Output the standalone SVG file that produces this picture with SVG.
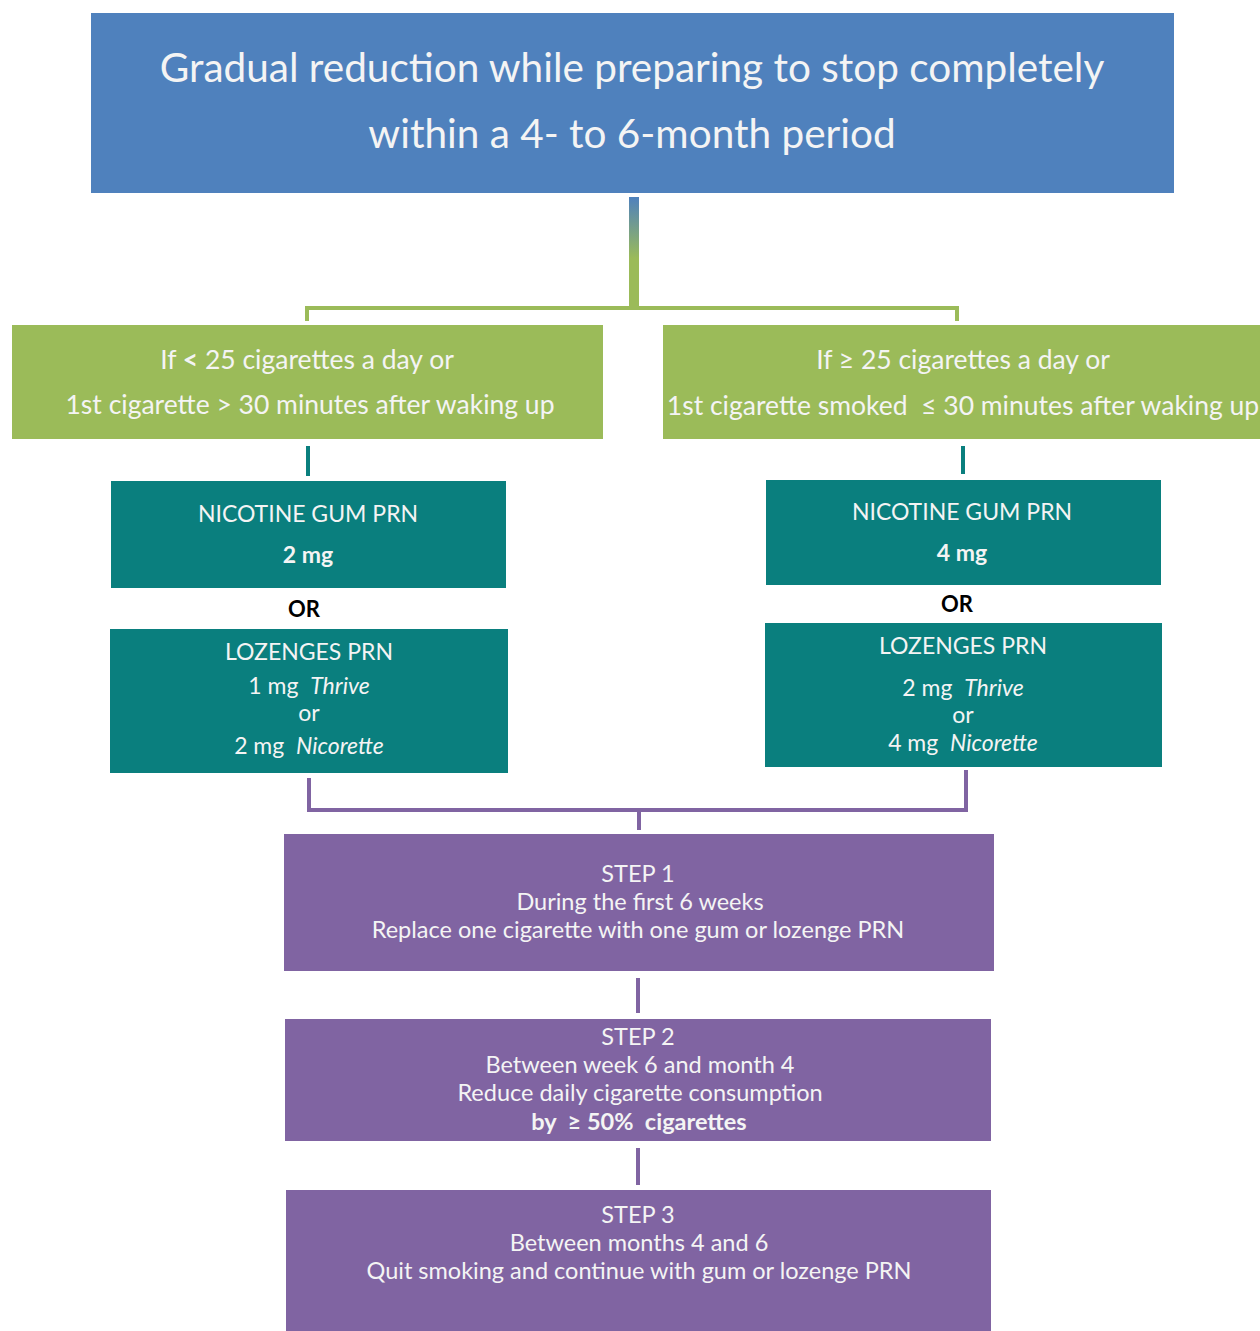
<svg xmlns="http://www.w3.org/2000/svg" width="1260" height="1331" viewBox="0 0 1260 1331">
<defs>
<linearGradient id="bg" x1="0" y1="0" x2="0" y2="1">
<stop offset="0" stop-color="#4F81BD"/>
<stop offset="0.55" stop-color="#9BBB59"/>
<stop offset="1" stop-color="#9BBB59"/>
</linearGradient>
</defs>
<style>
text{font-family:Lato,"Open Sans","Liberation Sans",sans-serif;fill:#F4F4F4;text-anchor:middle}
.blue{fill:#4F81BD}
.green{fill:#9BBB59}
.teal{fill:#0A7F7E}
.purple{fill:#8064A2}
.t1{font-size:40.5px}
.t2{font-size:26.5px}
.t3{font-size:23px}
.t4{font-size:23.5px}
.b{font-weight:bold}
.i{font-style:italic}
.or{fill:#000;font-weight:bold;font-size:22px}
.gl{stroke:#9BBB59;stroke-width:4;fill:none}
.tl{stroke:#0A7F7E;stroke-width:4;fill:none}
.pl{stroke:#8064A2;stroke-width:4;fill:none}
</style>
<rect width="1260" height="1331" fill="#FFFFFF"/>
<g id="connectors">
<rect x="629" y="197" width="10" height="112" fill="url(#bg)"/>
<path class="gl" d="M307 321 V308 H957 V321"/>
<path class="tl" d="M308 446 V476"/>
<path class="tl" d="M963 446 V474"/>
<path class="pl" d="M309 778 V810 H966 V770"/>
<path class="pl" d="M639 810 V830"/>
<path class="pl" d="M638 978 V1013"/>
<path class="pl" d="M638 1148 V1185"/>
</g>
<g id="top">
<rect class="blue" x="91" y="13" width="1083" height="180"/>
<text class="t1" x="632" y="82">Gradual reduction while preparing to stop completely</text>
<text class="t1" x="632" y="148">within  a 4- to 6-month period</text>
</g>
<g id="condLeft">
<rect class="green" x="12" y="325" width="591" height="114"/>
<text class="t2" x="307" y="369">If <tspan class="b">&lt;</tspan> 25 cigarettes a day or</text>
<text class="t2" x="310" y="414">1st cigarette &gt; 30 minutes after waking up</text>
</g>
<g id="condRight">
<rect class="green" x="663" y="325" width="600" height="114"/>
<text class="t2" x="963" y="369">If ≥ 25 cigarettes a day or</text>
<text class="t2" x="963" y="415" xml:space="preserve">1st cigarette smoked  ≤ 30 minutes after waking up</text>
</g>
<g id="gumLeft">
<rect class="teal" x="111" y="481" width="395" height="107"/>
<text class="t3" x="308" y="522">NICOTINE GUM PRN</text>
<text class="t3 b" x="308" y="563">2 mg</text>
</g>
<text class="or" x="304" y="617">OR</text>
<g id="lozLeft">
<rect class="teal" x="110" y="629" width="398" height="144"/>
<text class="t3" x="309" y="660">LOZENGES PRN</text>
<text class="t3" x="309" y="694" xml:space="preserve">1 mg  <tspan class="i">Thrive</tspan></text>
<text class="t3" x="309" y="721">or</text>
<text class="t3" x="309" y="754" xml:space="preserve">2 mg  <tspan class="i">Nicorette</tspan></text>
</g>
<g id="gumRight">
<rect class="teal" x="766" y="480" width="395" height="105"/>
<text class="t3" x="962" y="520">NICOTINE GUM PRN</text>
<text class="t3 b" x="962" y="561">4 mg</text>
</g>
<text class="or" x="957" y="612">OR</text>
<g id="lozRight">
<rect class="teal" x="765" y="623" width="397" height="144"/>
<text class="t3" x="963" y="654">LOZENGES PRN</text>
<text class="t3" x="963" y="696" xml:space="preserve">2 mg  <tspan class="i">Thrive</tspan></text>
<text class="t3" x="963" y="723">or</text>
<text class="t3" x="963" y="751" xml:space="preserve">4 mg  <tspan class="i">Nicorette</tspan></text>
</g>
<g id="step1">
<rect class="purple" x="284" y="834" width="710" height="137"/>
<text class="t4" x="638" y="882">STEP 1</text>
<text class="t4" x="640" y="910">During the first 6 weeks</text>
<text class="t4" x="638" y="938">Replace one cigarette with one gum or lozenge PRN</text>
</g>
<g id="step2">
<rect class="purple" x="285" y="1019" width="706" height="122"/>
<text class="t4" x="638" y="1045">STEP 2</text>
<text class="t4" x="640" y="1073">Between week 6 and month 4</text>
<text class="t4" x="640" y="1101">Reduce daily cigarette consumption</text>
<text class="t4 b" x="639" y="1130" xml:space="preserve">by  ≥ 50%  cigarettes</text>
</g>
<g id="step3">
<rect class="purple" x="286" y="1190" width="705" height="145"/>
<text class="t4" x="638" y="1223">STEP 3</text>
<text class="t4" x="639" y="1251">Between months 4 and 6</text>
<text class="t4" x="639" y="1279">Quit smoking and continue with gum or lozenge PRN</text>
</g>
</svg>
